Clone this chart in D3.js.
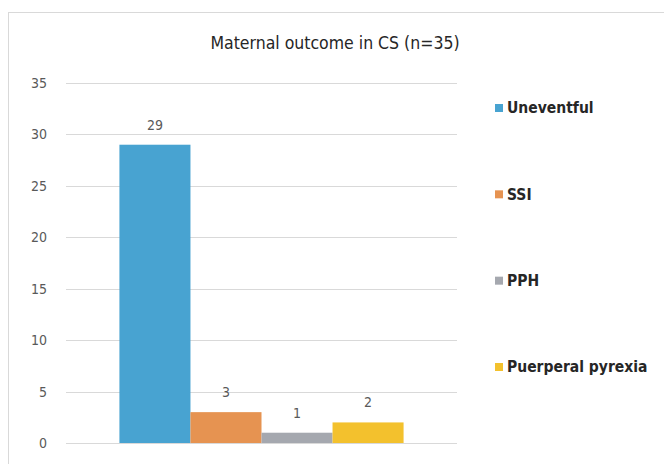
<!DOCTYPE html>
<html><head><meta charset="utf-8">
<script src="https://cdn.jsdelivr.net/npm/d3@7"></script>
<style>body{margin:0;background:#fff}svg{display:block}</style>
</head><body>
<svg id="c" width="664" height="464"></svg>
<script>
const categories = ["Uneventful", "SSI", "PPH", "Puerperal pyrexia"];
const values = [29, 3, 1, 2];
const colors = ["#48A3D1", "#E69351", "#A5A8AF", "#F3C12D"];
const yTicks = [0, 5, 10, 15, 20, 25, 30, 35];
const title = "Maternal outcome in CS (n=35)";

const svg = d3.select("#c");
const font = "'DejaVu Sans Condensed', 'Liberation Sans Narrow', sans-serif";

// chart frame
svg.append("rect").attr("x", 8.5).attr("y", 12.5).attr("width", 700).attr("height", 500)
  .attr("fill", "#fff").attr("stroke", "#D9D9D9");

const plot = {left: 66, right: 457, top: 83, bottom: 443};
const y = d3.scaleLinear().domain([0, 35]).range([plot.bottom, plot.top]);
const outer = d3.scaleBand().domain(["g"]).range([plot.left, plot.right]).paddingOuter(0.188).paddingInner(0);
const x = d3.scaleBand().domain(categories).range([outer("g"), outer("g") + outer.bandwidth()]).padding(0);

// gridlines
svg.append("g").selectAll("line").data(yTicks).join("line")
  .attr("x1", plot.left).attr("x2", plot.right)
  .attr("y1", d => Math.round(y(d)) + 0.5).attr("y2", d => Math.round(y(d)) + 0.5)
  .attr("stroke", "#D9D9D9").attr("stroke-width", 1);

// y axis labels
const yAxis = d3.axisLeft(y).tickValues(yTicks).tickSize(0).tickPadding(0);
const ga = svg.append("g").attr("transform", `translate(47,0)`).call(yAxis);
ga.select(".domain").remove();
ga.selectAll("text").attr("font-family", font).attr("font-size", 14).attr("fill", "#595959");

// bars
svg.append("g").selectAll("rect").data(categories).join("rect")
  .attr("x", d => x(d)).attr("width", x.bandwidth())
  .attr("y", (d, i) => y(values[i])).attr("height", (d, i) => y(0) - y(values[i]))
  .attr("fill", (d, i) => colors[i]);

// data labels
svg.append("g").selectAll("text").data(categories).join("text")
  .attr("x", d => x(d) + x.bandwidth() / 2)
  .attr("y", (d, i) => y(values[i]) - 15)
  .attr("text-anchor", "middle")
  .attr("font-family", font).attr("font-size", 14).attr("fill", "#595959")
  .text((d, i) => values[i]);

// title
svg.append("text").attr("x", 335).attr("y", 49).attr("text-anchor", "middle")
  .attr("font-family", font).attr("font-size", 17.5).attr("fill", "#262626").text(title);

// legend
const legY = d3.scalePoint().domain(categories).range([108, 367]);
const lg = svg.append("g").selectAll("g").data(categories).join("g")
  .attr("transform", d => `translate(495,${legY(d)})`);
lg.append("rect").attr("x", 0).attr("y", -4).attr("width", 8).attr("height", 8)
  .attr("fill", (d, i) => colors[i]);
lg.append("text").attr("x", 12).attr("y", 0).attr("dy", "0.35em")
  .attr("font-family", font).attr("font-size", 15.5).attr("font-weight", "bold").attr("fill", "#262626")
  .text(d => d);
</script>
</body></html>
